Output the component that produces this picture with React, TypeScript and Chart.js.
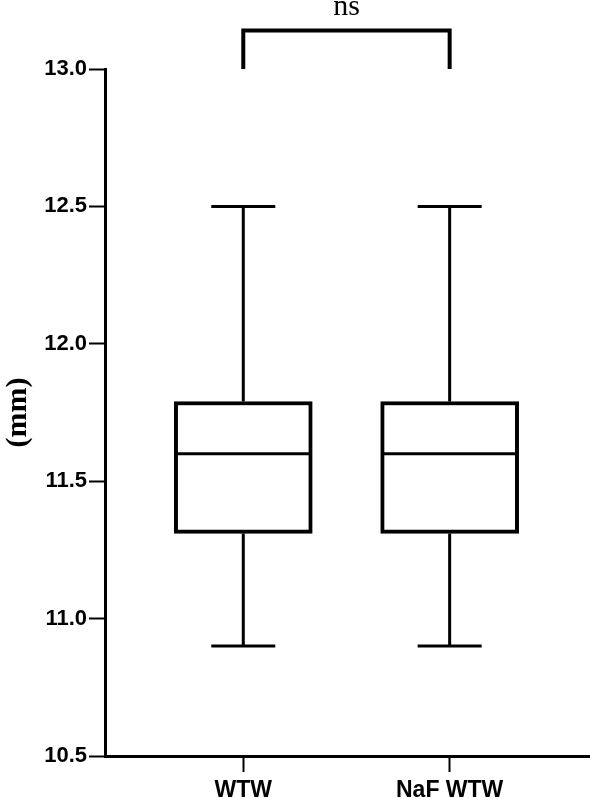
import React, { useEffect, useRef } from "react";
import { Chart, registerables } from "chart.js";

Chart.register(...registerables);

const categories = ["WTW", "NaF WTW"];
const whiskerMin = [10.9, 10.9];
const q1 = [11.31, 11.31];
const median = [11.6, 11.6];
const q3 = [11.79, 11.79];
const whiskerMax = [12.5, 12.5];
const yTicks = [10.5, 11.0, 11.5, 12.0, 12.5, 13.0];
const bracketFrom = 0;
const bracketTo = 1;
const bracketBottom = 13.0;
const bracketTop = 13.14;
const bracketLabel = "ns";
const yTitle = "(mm)";

const boxPlugin = {
  id: "boxWhiskers",
  afterDatasetsDraw(chart: any) {
    const ctx = chart.ctx;
    const xs = chart.scales.x;
    const ys = chart.scales.y;
    ctx.save();
    ctx.strokeStyle = "#000";
    ctx.lineCap = "butt";
    categories.forEach((_, i) => {
      const cx = xs.getPixelForValue(i);
      const yq3 = ys.getPixelForValue(q3[i]);
      const yq1 = ys.getPixelForValue(q1[i]);
      const yMax = ys.getPixelForValue(whiskerMax[i]);
      const yMin = ys.getPixelForValue(whiskerMin[i]);
      const yMed = ys.getPixelForValue(median[i]);
      ctx.lineWidth = 3;
      ctx.beginPath();
      ctx.moveTo(cx, yq3);
      ctx.lineTo(cx, yMax);
      ctx.moveTo(cx, yq1);
      ctx.lineTo(cx, yMin);
      ctx.moveTo(cx - 32, yMax);
      ctx.lineTo(cx + 32, yMax);
      ctx.moveTo(cx - 32, yMin);
      ctx.lineTo(cx + 32, yMin);
      ctx.stroke();
      ctx.lineWidth = 3;
      ctx.beginPath();
      ctx.moveTo(cx - 67, yMed);
      ctx.lineTo(cx + 67, yMed);
      ctx.stroke();
    });
    // significance bracket
    const x1 = xs.getPixelForValue(bracketFrom);
    const x2 = xs.getPixelForValue(bracketTo);
    const yb = ys.getPixelForValue(bracketBottom);
    const yt = ys.getPixelForValue(bracketTop);
    ctx.lineWidth = 4;
    ctx.lineJoin = "miter";
    ctx.beginPath();
    ctx.moveTo(x1, yb);
    ctx.lineTo(x1, yt);
    ctx.lineTo(x2, yt);
    ctx.lineTo(x2, yb);
    ctx.stroke();
    ctx.fillStyle = "#000";
    ctx.font = "30px 'Liberation Serif'";
    ctx.textAlign = "center";
    ctx.textBaseline = "alphabetic";
    ctx.fillText(bracketLabel, (x1 + x2) / 2, yt - 16);
    ctx.restore();
  },
};

export default function App() {
  const ref = useRef<HTMLCanvasElement>(null);
  useEffect(() => {
    if (!ref.current) return;
    const chart = new Chart(ref.current, {
      type: "bar",
      data: {
        datasets: [
          {
            data: categories.map((_, i) => ({ x: i, y: [q1[i], q3[i]] })) as any,
            backgroundColor: "#fff",
            borderColor: "#000",
            borderWidth: 4,
            borderSkipped: false,
            barThickness: 138,
          } as any,
        ],
      },
      options: {
        animation: false,
        responsive: true,
        maintainAspectRatio: false,
        layout: { padding: { top: 69, left: 0, right: 0, bottom: 0 } },
        plugins: { legend: { display: false }, tooltip: { enabled: false } },
        scales: {
          x: {
            type: "linear",
            min: -0.67,
            max: 1.68,
            offset: false,
            afterBuildTicks: (s: any) => {
              s.ticks = categories.map((_, i) => ({ value: i }));
            },
            afterFit: (s: any) => {
              s.height = 43;
            },
            grid: {
              offset: false,
              drawOnChartArea: false,
              drawTicks: true,
              tickLength: 16,
              tickWidth: 2,
              tickColor: "#000",
            },
            border: { display: true, width: 3, color: "#000" },
            ticks: {
              color: "#000",
              padding: 5,
              maxRotation: 0,
              font: { family: "'Liberation Sans'", size: 23, weight: "bold" },
              callback: (v: any) => categories[v] ?? "",
            },
          },
          y: {
            type: "linear",
            min: 10.5,
            max: 13.0,
            afterBuildTicks: (s: any) => {
              s.ticks = yTicks.map((v) => ({ value: v }));
            },
            afterFit: (s: any) => {
              s.width = 105;
            },
            grid: {
              drawOnChartArea: false,
              drawTicks: true,
              tickLength: 16,
              tickWidth: 2,
              tickColor: "#000",
            },
            border: { display: true, width: 3, color: "#000" },
            ticks: {
              color: "#000",
              padding: 2,
              font: { family: "'Liberation Sans'", size: 22, weight: "bold" },
              callback: (v: any) => Number(v).toFixed(1),
            },
            title: {
              display: true,
              text: yTitle,
              color: "#000",
              padding: 0,
              font: { family: "'Liberation Serif'", size: 30, weight: "bold", lineHeight: 1.2 },
            },
          },
        },
      },
      plugins: [boxPlugin],
    } as any);
    return () => chart.destroy();
  }, []);
  return (
    <div style={{ position: "fixed", left: 0, top: 0, width: 590, height: 799, background: "#fff" }}>
      <canvas ref={ref} />
    </div>
  );
}
